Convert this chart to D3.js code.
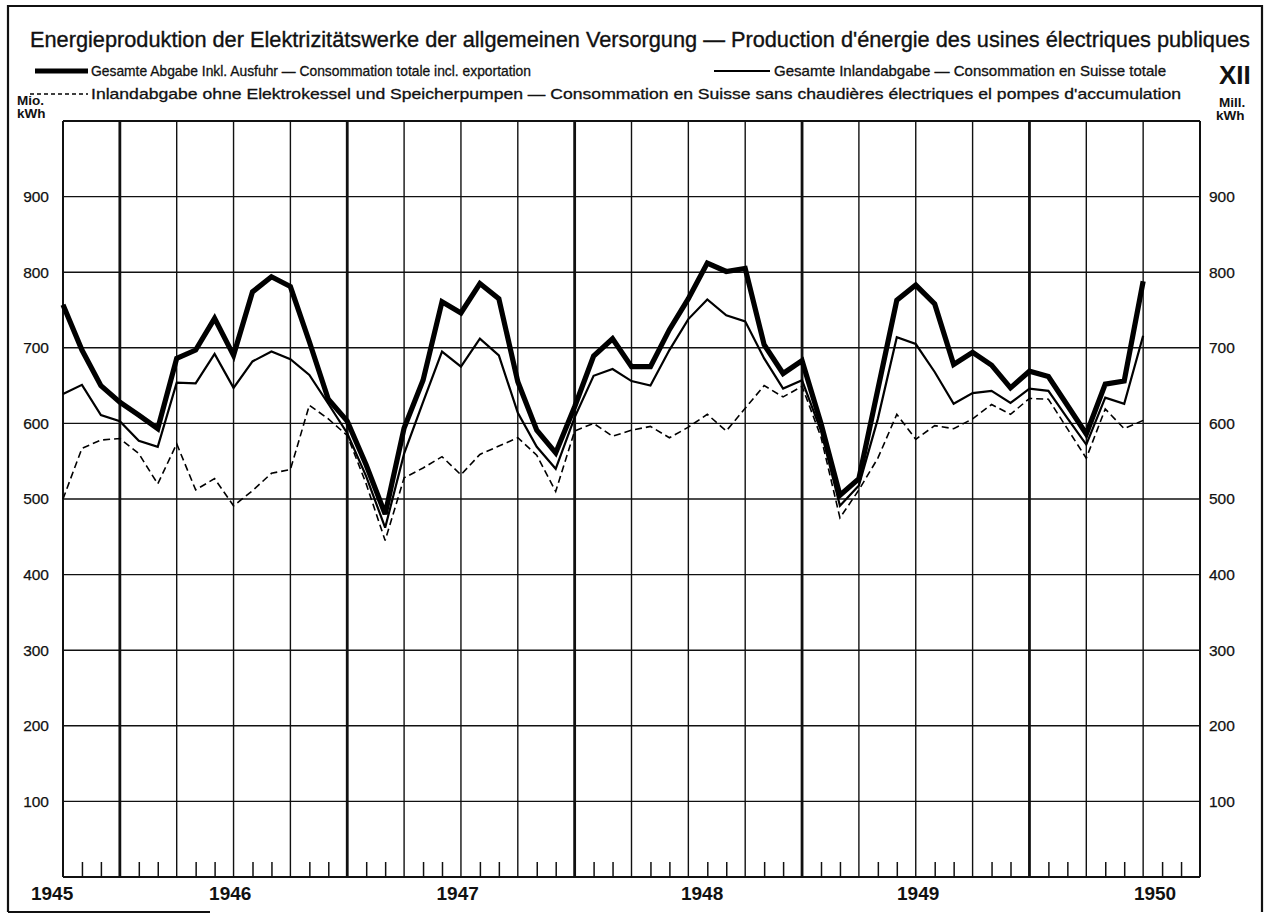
<!DOCTYPE html>
<html><head><meta charset="utf-8">
<script src="https://cdn.jsdelivr.net/npm/d3@7/dist/d3.min.js"></script>
<style>
body{margin:0;background:#fff}
text{font-family:"Liberation Sans Narrow","Liberation Sans",Arial,sans-serif;fill:#111}
</style>
</head><body>
<svg id="c" width="1269" height="916"></svg>
<script>
// ---- data (Mio. kWh per month) ----
const totalInclExport = [757,697,650,628,611,593,686,697,739,690,774,794,781,708,632,603,545,480,594,657,
  761,746,785,765,655,591,561,622,689,712,675,675,724,765,812,801,805,704,666,683,
  600,505,527,645,763,783,758,678,694,677,647,669,662,624,586,652,656,788];
const domesticTotal = [639,651,611,603,577,569,654,653,692,647,682,695,685,664,626,587,530,462,560,628,
  695,675,712,690,614,569,540,608,663,672,656,650,697,738,764,743,735,686,646,657,
  590,491,518,606,714,705,668,626,640,643,627,646,643,607,572,634,626,716];
const domesticExclBoilers = [500,567,578,580,560,520,573,512,527,491,511,534,539,624,606,584,520,445,528,541,
  556,532,559,570,581,558,510,590,600,583,591,596,581,595,612,590,620,650,635,649,
  582,475,512,554,612,579,597,593,606,625,612,633,632,593,554,619,593,604];
const yTickValues = [100,200,300,400,500,600,700,800,900];
const yearLabels = ["1945","1946","1947","1948","1949","1950"];
const yearLabelMonths = [-0.6,8.8,20.8,33.7,45.1,57.6];
const monthCount = 60;

const titleText = "Energieproduktion der Elektrizitätswerke der allgemeinen Versorgung — Production d'énergie des usines électriques publiques";
const legend1a = "Gesamte Abgabe Inkl. Ausfuhr — Consommation totale incl. exportation";
const legend1b = "Gesamte Inlandabgabe — Consommation en Suisse totale";
const legend2 = "Inlandabgabe ohne Elektrokessel und Speicherpumpen — Consommation en Suisse sans chaudières électriques el pompes d'accumulation";

// ---- drawing ----
const svg = d3.select("#c");
const P = {l:63, r:1200, t:121, b:877};
const x = d3.scaleLinear().domain([0, monthCount]).range([P.l, P.r]);
const y = d3.scaleLinear().domain([0, 1000]).range([P.b, P.t]);
const sansFont = "'Liberation Sans',Arial,sans-serif";

svg.append("rect").attr("width",1269).attr("height",916).attr("fill","#fff");

// outer frame
const frame = svg.append("g").attr("stroke","#111").attr("fill","none");
frame.append("path").attr("d","M8,912 L8,6 L1262,6 L1262,912").attr("stroke-width",2.2);
frame.append("line").attr("x1",8).attr("x2",210).attr("y1",912).attr("y2",912).attr("stroke-width",2);

// horizontal grid
const grid = svg.append("g").attr("stroke","#111");
grid.selectAll("line.h").data(yTickValues.concat([1000])).join("line")
  .attr("x1",P.l).attr("x2",P.r).attr("y1",d=>y(d)).attr("y2",d=>y(d))
  .attr("stroke-width",d=>d===1000?2:1.4);
grid.append("line").attr("x1",P.l).attr("x2",P.r).attr("y1",y(0)).attr("y2",y(0)).attr("stroke-width",1.8);

// vertical grid every quarter, heavier each year
const quarterMonths = d3.range(0, monthCount+1, 3);
grid.selectAll("line.v").data(quarterMonths).join("line")
  .attr("x1",d=>x(d)).attr("x2",d=>x(d)).attr("y1",P.t).attr("y2",P.b)
  .attr("stroke-width",d=>(d%12===3)?2.8:(d===0||d===monthCount?2:1.4));

// minor month ticks at bottom
const minorMonths = d3.range(0, monthCount+1).filter(m=>m%3!==0);
const minorAxis = svg.append("g").attr("transform",`translate(0,${P.b})`)
  .call(d3.axisBottom(x).tickValues(minorMonths).tickSize(-15).tickFormat(""));
minorAxis.select(".domain").remove();
minorAxis.selectAll("line").attr("stroke","#111").attr("stroke-width",1.5);

// year labels
const yearAxis = svg.append("g").attr("transform",`translate(0,${P.b})`)
  .call(d3.axisBottom(x).tickValues(yearLabelMonths).tickSize(0).tickPadding(10)
    .tickFormat((d,i)=>yearLabels[i]));
yearAxis.select(".domain").remove();
yearAxis.selectAll("text").attr("font-size",19).attr("font-weight","bold").style("font-family",sansFont);

// y axes
const leftAxis = svg.append("g").attr("transform",`translate(${P.l},0)`)
  .call(d3.axisLeft(y).tickValues(yTickValues).tickSize(0).tickPadding(14));
leftAxis.select(".domain").remove();
leftAxis.selectAll("text").attr("font-size",15.5).style("font-family",sansFont)
  .attr("stroke","#111").attr("stroke-width",0.25);
const rightAxis = svg.append("g").attr("transform",`translate(${P.r},0)`)
  .call(d3.axisRight(y).tickValues(yTickValues).tickSize(0).tickPadding(9));
rightAxis.select(".domain").remove();
rightAxis.selectAll("text").attr("font-size",15.5).style("font-family",sansFont)
  .attr("stroke","#111").attr("stroke-width",0.25);

// unit labels
const unit = svg.append("g").attr("font-weight","bold").attr("font-size",13.5);
[["Mio.",17,105],["kWh",17,118],["Mill.",1219,107],["kWh",1216,120]].forEach(([t,tx,ty])=>{
  unit.append("text").attr("x",tx).attr("y",ty).text(t).style("font-family",sansFont);
});

// series lines
const line = d3.line().x((d,i)=>x(i)).y(d=>y(d));
const series = [
  {data:domesticExclBoilers, w:1.6, dash:"7,4"},
  {data:domesticTotal, w:2.2, dash:null},
  {data:totalInclExport, w:5.2, dash:null}
];
svg.append("g").selectAll("path").data(series).join("path")
  .attr("d",d=>line(d.data)).attr("fill","none").attr("stroke","#000")
  .attr("stroke-width",d=>d.w).attr("stroke-dasharray",d=>d.dash)
  .attr("stroke-linejoin","miter").attr("stroke-miterlimit",3);

// title
svg.append("text").attr("x",30).attr("y",47).attr("font-size",21.5)
  .attr("stroke","#111").attr("stroke-width",0.35)
  .attr("textLength",1220).attr("lengthAdjust","spacingAndGlyphs").text(titleText);

// legend
const lg = svg.append("g");
lg.append("line").attr("x1",35).attr("x2",88).attr("y1",71).attr("y2",71).attr("stroke","#000").attr("stroke-width",5);
lg.append("line").attr("x1",714).attr("x2",770).attr("y1",71).attr("y2",71).attr("stroke","#000").attr("stroke-width",2);
lg.append("line").attr("x1",30).attr("x2",88).attr("y1",94).attr("y2",94).attr("stroke","#000").attr("stroke-width",1.5).attr("stroke-dasharray","4,3");
[[legend1a,91,76,440],[legend1b,774,76,392],[legend2,91,99,1090]].forEach(([t,tx,ty,len])=>{
  lg.append("text").attr("x",tx).attr("y",ty).attr("font-size",14.5)
    .attr("stroke","#111").attr("stroke-width",0.3)
    .attr("textLength",len).attr("lengthAdjust","spacingAndGlyphs").text(t);
});
svg.append("text").attr("x",1219).attr("y",84).attr("font-size",26).attr("font-weight","bold")
  .style("font-family",sansFont).text("XII");
</script>
</body></html>
